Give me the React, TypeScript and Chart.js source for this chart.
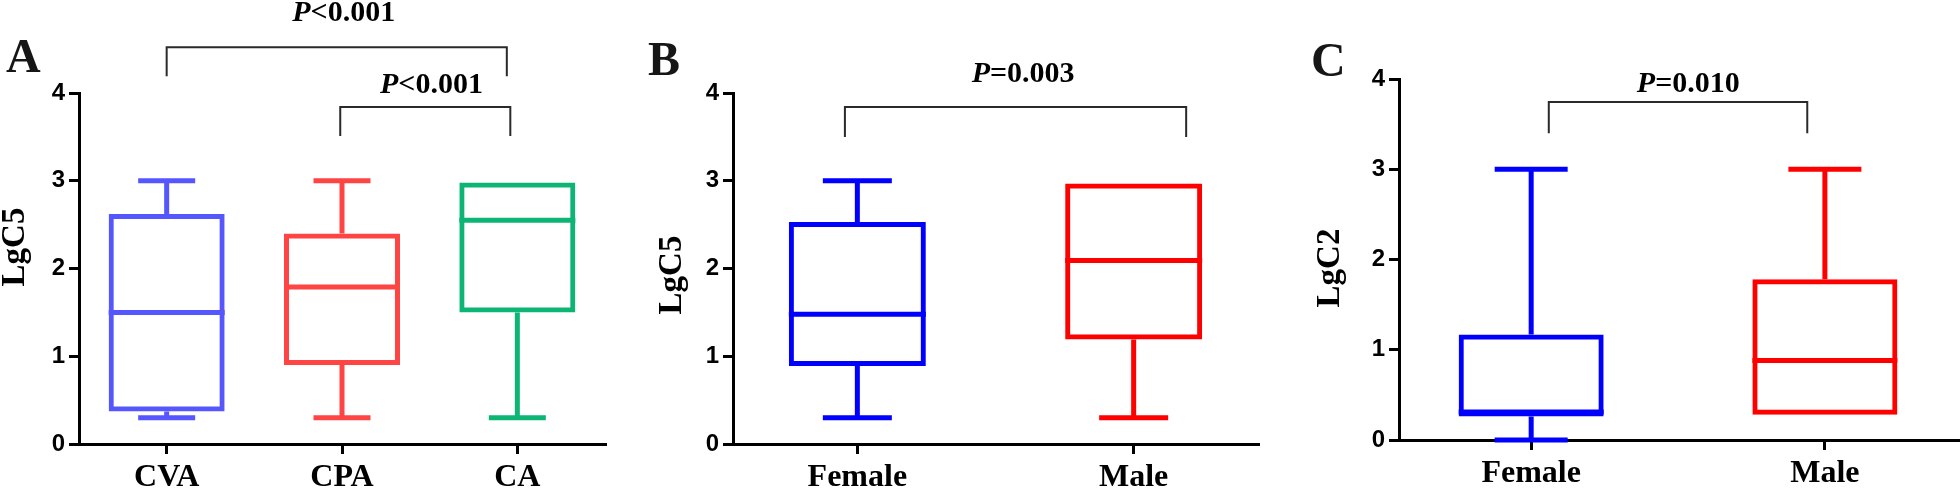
import React, { useEffect, useRef } from "react";
import { Chart, registerables } from "chart.js";

Chart.register(...registerables);

// ---------- Data ----------
const yTicks = [0, 1, 2, 3, 4];

// Panel A (LgC5 by group)
const catsA = ["CVA", "CPA", "CA"];
const minA = [0.3, 0.3, 0.3];
const q1A = [0.37, 0.9, 1.5];
const medA = [1.5, 1.79, 2.55];
const q3A = [2.62, 2.4, 2.98];
const maxA = [3.0, 3.0, 2.98];
const colorsA = ["#5656FF", "#FF4444", "#0DB574"];

// Panel B (LgC5 by sex)
const catsB = ["Female", "Male"];
const minB = [0.3, 0.3];
const q1B = [0.89, 1.19];
const medB = [1.48, 2.09];
const q3B = [2.53, 2.97];
const maxB = [3.0, 2.97];
const colorsB = ["#0000FF", "#FF0000"];

// Panel C (LgC2 by sex)
const catsC = ["Female", "Male"];
const minC = [0.0, 0.28];
const q1C = [0.26, 0.28];
const medC = [0.31, 0.88];
const q3C = [1.17, 1.78];
const maxC = [3.0, 3.0];
const colorsC = ["#0000FF", "#FF0000"];

// Significance annotations (data coordinates)
const sigA = [
  { from: 0, to: 1.94, y: 4.52, drop: 4.19, text: "<0.001", tx: 1.01, ty: 4.82 },
  { from: 0.99, to: 1.96, y: 3.84, drop: 3.51, text: "<0.001", tx: 1.51, ty: 4.0 },
];
const sigB = [{ from: -0.045, to: 1.19, y: 3.84, drop: 3.5, text: "=0.003", tx: 0.6, ty: 4.125 }];
const sigC = [{ from: 0.06, to: 0.94, y: 3.745, drop: 3.4, text: "=0.010", tx: 0.535, ty: 3.856 }];

// ---------- Panels config ----------
type Sig = { from: number; to: number; y: number; drop: number; text: string; tx: number; ty: number };
type Panel = {
  letter: string;
  yTitle: string;
  cats: string[];
  min: number[];
  q1: number[];
  med: number[];
  q3: number[];
  max: number[];
  colors: string[];
  sig: Sig[];
  left: number;
  width: number;
  padTop: number;
  padRight: number;
  yAxisW: number;
  xAxisH: number;
  xMin: number;
  xMax: number;
  boxW: number;
  capW: number;
  letterPos: [number, number];
  titlePos: [number, number];
};

const panels: Panel[] = [
  {
    letter: "A", yTitle: "LgC5", cats: catsA, min: minA, q1: q1A, med: medA, q3: q3A, max: maxA,
    colors: colorsA, sig: sigA, left: 0, width: 640, padTop: 93, padRight: 35, yAxisW: 79, xAxisH: 48,
    xMin: -0.5, xMax: 2.5, boxW: 116, capW: 57, letterPos: [6, 72], titlePos: [15, 247],
  },
  {
    letter: "B", yTitle: "LgC5", cats: catsB, min: minB, q1: q1B, med: medB, q3: q3B, max: maxB,
    colors: colorsB, sig: sigB, left: 640, width: 660, padTop: 93, padRight: 42, yAxisW: 93, xAxisH: 48,
    xMin: -0.45, xMax: 1.45, boxW: 137, capW: 69, letterPos: [8, 75], titlePos: [32, 275],
  },
  {
    letter: "C", yTitle: "LgC2", cats: catsC, min: minC, q1: q1C, med: medC, q3: q3C, max: maxC,
    colors: colorsC, sig: sigC, left: 1300, width: 660, padTop: 79, padRight: 0, yAxisW: 99, xAxisH: 52,
    xMin: -0.45, xMax: 1.46, boxW: 145, capW: 73, letterPos: [11, 76], titlePos: [30, 268],
  },
];

const SERIF = "'Liberation Serif', 'Times New Roman', serif";
const SANS = "'Liberation Sans', Arial, sans-serif";
const LW = 5;

function BoxPanel({ p }: { p: Panel }) {
  const ref = useRef<HTMLCanvasElement>(null);

  useEffect(() => {
    if (!ref.current) return;

    const extras = {
      id: "boxExtras",
      afterDraw(chart: any) {
        const ctx: CanvasRenderingContext2D = chart.ctx;
        const xs = chart.scales.x;
        const ys = chart.scales.y;
        ctx.save();
        ctx.lineCap = "butt";
        // whiskers, caps and medians
        p.cats.forEach((_, i) => {
          const x = xs.getPixelForValue(i);
          ctx.strokeStyle = p.colors[i];
          ctx.lineWidth = LW;
          const yq3 = ys.getPixelForValue(p.q3[i]);
          const yq1 = ys.getPixelForValue(p.q1[i]);
          if (p.max[i] > p.q3[i]) {
            const ymax = ys.getPixelForValue(p.max[i]);
            ctx.beginPath();
            ctx.moveTo(x, yq3);
            ctx.lineTo(x, ymax);
            ctx.moveTo(x - p.capW / 2, ymax);
            ctx.lineTo(x + p.capW / 2, ymax);
            ctx.stroke();
          }
          if (p.min[i] < p.q1[i]) {
            const ymin = ys.getPixelForValue(p.min[i]);
            ctx.beginPath();
            ctx.moveTo(x, yq1);
            ctx.lineTo(x, ymin);
            ctx.moveTo(x - p.capW / 2, ymin);
            ctx.lineTo(x + p.capW / 2, ymin);
            ctx.stroke();
          }
          const ym = ys.getPixelForValue(p.med[i]);
          ctx.beginPath();
          ctx.moveTo(x - p.boxW / 2, ym);
          ctx.lineTo(x + p.boxW / 2, ym);
          ctx.stroke();
        });

        // significance brackets
        ctx.strokeStyle = "#2a2a2a";
        ctx.lineWidth = 2;
        p.sig.forEach((s) => {
          const x1 = xs.getPixelForValue(s.from);
          const x2 = xs.getPixelForValue(s.to);
          const y = ys.getPixelForValue(s.y);
          const yd = ys.getPixelForValue(s.drop);
          ctx.beginPath();
          ctx.moveTo(x1, yd);
          ctx.lineTo(x1, y);
          ctx.lineTo(x2, y);
          ctx.lineTo(x2, yd);
          ctx.stroke();
          // text: italic P + bold rest
          const cx = xs.getPixelForValue(s.tx);
          const by = ys.getPixelForValue(s.ty);
          const fP = `italic bold 30px ${SERIF}`;
          const fR = `bold 30px ${SERIF}`;
          ctx.font = fP;
          const w1 = ctx.measureText("P").width;
          ctx.font = fR;
          const w2 = ctx.measureText(s.text).width;
          const start = cx - (w1 + w2) / 2;
          ctx.fillStyle = "#000";
          ctx.textAlign = "left";
          ctx.textBaseline = "alphabetic";
          ctx.font = fP;
          ctx.fillText("P", start, by);
          ctx.font = fR;
          ctx.fillText(s.text, start + w1, by);
        });

        // panel letter
        ctx.fillStyle = "#161616";
        ctx.font = `bold 48px ${SERIF}`;
        ctx.textAlign = "left";
        ctx.textBaseline = "alphabetic";
        ctx.fillText(p.letter, p.letterPos[0], p.letterPos[1]);

        // y-axis title
        ctx.save();
        ctx.translate(p.titlePos[0], p.titlePos[1]);
        ctx.rotate(-Math.PI / 2);
        ctx.fillStyle = "#000";
        ctx.font = `bold 33px ${SERIF}`;
        ctx.textAlign = "center";
        ctx.textBaseline = "middle";
        ctx.fillText(p.yTitle, 0, 0);
        ctx.restore();

        ctx.restore();
      },
    };

    const chart = new Chart(ref.current, {
      type: "bar",
      data: {
        datasets: [
          {
            data: p.cats.map((_, i) => ({ x: i, y: [p.q1[i], p.q3[i]] })) as any,
            backgroundColor: "rgba(0,0,0,0)",
            borderColor: p.colors,
            borderWidth: LW,
            borderSkipped: false,
            barThickness: p.boxW,
            inflateAmount: 0,
          } as any,
        ],
      },
      options: {
        responsive: false,
        animation: false,
        devicePixelRatio: 1,
        layout: { padding: { left: 0, right: p.padRight, top: p.padTop, bottom: 0 } },
        plugins: {
          legend: { display: false },
          tooltip: { enabled: false },
          title: { display: false },
        },
        scales: {
          x: {
            type: "linear",
            min: p.xMin,
            max: p.xMax,
            offset: false,
            grid: {
              display: true,
              offset: false,
              drawOnChartArea: false,
              drawTicks: true,
              tickLength: 10,
              color: "#000",
              lineWidth: 3,
            },
            border: { display: true, color: "#000", width: 3 },
            ticks: {
              autoSkip: false,
              maxRotation: 0,
              padding: 5,
              color: "#000",
              font: { family: SERIF, size: 32, weight: "bold" },
              callback: (_v: any, index: number) => p.cats[index] ?? "",
            },
            afterBuildTicks: (s: any) => {
              s.ticks = p.cats.map((_, i) => ({ value: i }));
            },
            afterFit: (s: any) => {
              s.height = p.xAxisH;
            },
          } as any,
          y: {
            type: "linear",
            min: 0,
            max: 4,
            grid: {
              display: true,
              drawOnChartArea: false,
              drawTicks: true,
              tickLength: 10,
              color: "#000",
              lineWidth: 3,
            },
            border: { display: true, color: "#000", width: 3 },
            ticks: {
              padding: 4,
              color: "#000",
              font: { family: SANS, size: 24, weight: "bold" },
            },
            afterBuildTicks: (s: any) => {
              s.ticks = yTicks.map((v) => ({ value: v }));
            },
            afterFit: (s: any) => {
              s.width = p.yAxisW;
            },
          } as any,
        },
      },
      plugins: [extras],
    });

    return () => chart.destroy();
  }, [p]);

  return (
    <canvas
      ref={ref}
      width={p.width}
      height={492}
      style={{ position: "absolute", left: p.left, top: 0, width: p.width, height: 492 }}
    />
  );
}

export default function App() {
  return (
    <div
      style={{
        position: "absolute",
        left: 0,
        top: 0,
        width: 1960,
        height: 492,
        background: "#fff",
        overflow: "hidden",
      }}
    >
      {panels.map((p) => (
        <BoxPanel key={p.letter} p={p} />
      ))}
    </div>
  );
}
